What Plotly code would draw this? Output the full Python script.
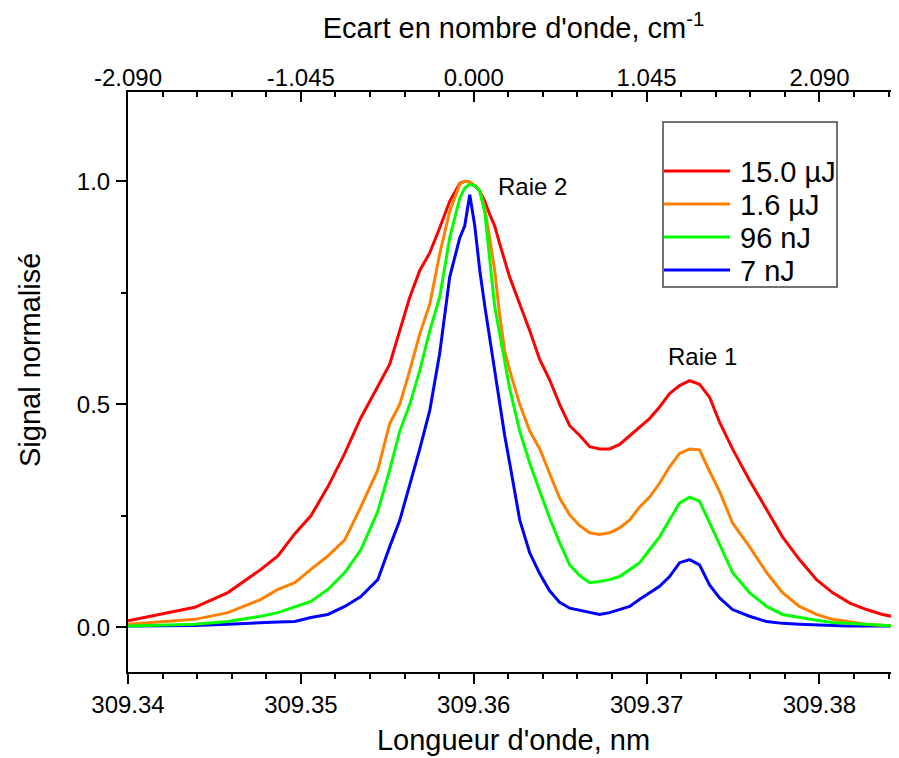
import plotly.graph_objects as go

# ---- data ----
wavelength_nm = [
    309.34000, 309.34387, 309.34578, 309.34769, 309.34867, 309.34965, 309.35058, 309.35156, 309.35254, 309.35347,
    309.35445, 309.35514, 309.35572, 309.35630, 309.35688, 309.35746, 309.35803, 309.35861, 309.35919, 309.35948,
    309.35977, 309.36006, 309.36035, 309.36064, 309.36092, 309.36121, 309.36150, 309.36179, 309.36208, 309.36266,
    309.36324, 309.36382, 309.36439, 309.36497, 309.36555, 309.36613, 309.36671, 309.36728, 309.36786, 309.36844,
    309.36902, 309.36960, 309.37017, 309.37075, 309.37133, 309.37191, 309.37249, 309.37306, 309.37364, 309.37422,
    309.37497, 309.37595, 309.37694, 309.37786, 309.37884, 309.37983, 309.38075, 309.38173, 309.38272, 309.38364,
    309.38457,
]

signal_15uJ = [
    0.015, 0.045, 0.078, 0.13, 0.16, 0.21, 0.25, 0.315, 0.39, 0.47,
    0.54, 0.59, 0.665, 0.74, 0.80, 0.84, 0.895, 0.955, 0.995, 1.0,
    0.998, 0.99, 0.978, 0.955, 0.926, 0.90, 0.86, 0.825, 0.785, 0.725,
    0.665, 0.60, 0.555, 0.50, 0.452, 0.43, 0.405, 0.40, 0.40, 0.41,
    0.43, 0.45, 0.468, 0.494, 0.524, 0.542, 0.553, 0.545, 0.516, 0.46,
    0.40, 0.33, 0.263, 0.203, 0.152, 0.107, 0.078, 0.055, 0.04, 0.029,
    0.022,
]

signal_1p6uJ = [
    0.007, 0.018, 0.033, 0.063, 0.085, 0.10, 0.13, 0.16, 0.196, 0.27,
    0.353, 0.457, 0.50, 0.576, 0.658, 0.725, 0.837, 0.933, 0.993, 1.0,
    0.998, 0.99, 0.978, 0.94, 0.873, 0.80, 0.70, 0.62, 0.576, 0.50,
    0.44, 0.40, 0.345, 0.29, 0.252, 0.228, 0.212, 0.208, 0.212, 0.223,
    0.241, 0.27, 0.292, 0.323, 0.36, 0.39, 0.40, 0.398, 0.35, 0.305,
    0.234, 0.181, 0.123, 0.078, 0.047, 0.029, 0.018, 0.012, 0.007, 0.005,
    0.003,
]

signal_96nJ = [
    0.003, 0.007, 0.013, 0.025, 0.033, 0.045, 0.058, 0.085, 0.123, 0.174,
    0.26, 0.353, 0.44, 0.50, 0.576, 0.665, 0.74, 0.873, 0.962, 0.985,
    0.993, 0.99, 0.978, 0.93, 0.82, 0.72, 0.658, 0.60, 0.535, 0.44,
    0.368, 0.305, 0.245, 0.19, 0.14, 0.116, 0.10, 0.103, 0.107, 0.114,
    0.13, 0.145, 0.174, 0.203, 0.241, 0.279, 0.292, 0.283, 0.235, 0.186,
    0.123, 0.078, 0.047, 0.029, 0.022, 0.016, 0.011, 0.009, 0.007, 0.005,
    0.003,
]

signal_7nJ = [
    0.003, 0.004, 0.007, 0.011, 0.012, 0.013, 0.022, 0.029, 0.047, 0.069,
    0.107, 0.181, 0.24, 0.32, 0.40, 0.487, 0.614, 0.785, 0.873, 0.90,
    0.97, 0.90, 0.80, 0.72, 0.65, 0.575, 0.50, 0.43, 0.368, 0.241,
    0.167, 0.12, 0.082, 0.056, 0.043, 0.038, 0.033, 0.029, 0.033, 0.04,
    0.047, 0.063, 0.078, 0.092, 0.114, 0.145, 0.152, 0.14, 0.095, 0.066,
    0.04, 0.025, 0.013, 0.009, 0.007, 0.005, 0.004, 0.003, 0.003, 0.003,
    0.003,
]

series_names = ["15.0 µJ", "1.6 µJ", "96 nJ", "7 nJ"]
series_colors = ["#ff0000", "#ff8000", "#00ff00", "#0000ff"]
series_values = [signal_15uJ, signal_1p6uJ, signal_96nJ, signal_7nJ]

bottom_tick_vals = [309.34, 309.35, 309.36, 309.37, 309.38]
bottom_tick_text = ["309.34", "309.35", "309.36", "309.37", "309.38"]
top_tick_text = ["-2.090", "-1.045", "0.000", "1.045", "2.090"]
y_tick_vals = [0.0, 0.5, 1.0]
y_tick_text = ["0.0", "0.5", "1.0"]

peak_labels = ["Raie 2", "Raie 1"]
peak_label_x = [309.36341, 309.37324]
peak_label_y = [0.989, 0.607]

FONT = "Arial, Liberation Sans, sans-serif"
X_RANGE = [309.34, 309.3846]
Y_RANGE = [-0.1, 1.2]
TICK_SIZE = 24
TITLE_SIZE = 29

fig = go.Figure()

# draw order: blue first, green last (green sits on top at the peak)
draw_order = [3, 0, 1, 2]
for i in draw_order:
    fig.add_trace(go.Scatter(
        x=wavelength_nm, y=series_values[i], mode="lines", name=series_names[i],
        line=dict(color=series_colors[i], width=3), showlegend=False,
    ))

# helper trace so the top axis is drawn
fig.add_trace(go.Scatter(x=[X_RANGE[0]], y=[None], xaxis="x2", yaxis="y",
                         showlegend=False, hoverinfo="skip", mode="lines"))

# ---- page geometry (the page body adds an 8 px offset) ----
px0, px1, py0, py1 = 128, 899, 92, 672   # plot area in page pixels
def paper_x(px):
    return (px - px0) / (px1 - px0)
def paper_y(py):
    return (py1 - py) / (py1 - py0)

# ---- hand-built legend (long line samples, boxed) ----
shapes = [dict(type="rect", xref="paper", yref="paper",
               x0=paper_x(663), x1=paper_x(837), y0=paper_y(287), y1=paper_y(122),
               line=dict(color="#444444", width=1.5), fillcolor="rgba(0,0,0,0)")]
annotations = []
legend_rows_py = [171, 204, 237, 270]
for name, color, py in zip(series_names, series_colors, legend_rows_py):
    shapes.append(dict(type="line", xref="paper", yref="paper",
                       x0=paper_x(664), x1=paper_x(730), y0=paper_y(py), y1=paper_y(py),
                       line=dict(color=color, width=3)))
    annotations.append(dict(xref="paper", yref="paper", x=paper_x(738), y=paper_y(py + 1),
                            text=name, showarrow=False, xanchor="left", yanchor="middle",
                            font=dict(family=FONT, size=29, color="black")))

for t, x, y in zip(peak_labels, peak_label_x, peak_label_y):
    annotations.append(dict(x=x, y=y, xref="x", yref="y", text=t, showarrow=False,
                            xanchor="center", yanchor="middle",
                            font=dict(family=FONT, size=24, color="black")))

# y-axis title placed where the reference has it (slightly above centre)
annotations.append(dict(xref="paper", yref="paper", x=paper_x(30), y=paper_y(360),
                        text="Signal normalisé", textangle=-90, showarrow=False,
                        xanchor="center", yanchor="middle",
                        font=dict(family=FONT, size=TITLE_SIZE, color="black")))

axis_common = dict(showgrid=False, zeroline=False, showline=True, linecolor="black",
                   linewidth=2, tickcolor="black", tickwidth=2, ticklen=10,
                   automargin=False,
                   tickfont=dict(family=FONT, size=TICK_SIZE, color="black"))

W, H = 891, 750
fig.update_layout(
    width=W, height=H,
    margin=dict(l=px0 - 8, r=W - (px1 - 8), t=py0 - 8, b=H - (py1 - 8), pad=0),
    paper_bgcolor="white", plot_bgcolor="white",
    showlegend=False,
    font=dict(family=FONT, color="black"),
    shapes=shapes, annotations=annotations,
    xaxis=dict(
        **axis_common, range=X_RANGE, ticks="outside",
        tickmode="array", tickvals=bottom_tick_vals, ticktext=bottom_tick_text,
        minor=dict(ticks="outside", ticklen=5, tickwidth=1.5, tickcolor="black",
                   tickmode="linear", tick0=309.34, dtick=0.002),
        title=dict(text="Longueur d'onde, nm",
                   font=dict(family=FONT, size=TITLE_SIZE, color="black"), standoff=13),
        anchor="y",
    ),
    xaxis2=dict(
        **axis_common, range=X_RANGE, ticks="inside", overlaying="x", side="top", anchor="y",
        tickmode="array", tickvals=bottom_tick_vals, ticktext=top_tick_text,
        ticklabelstandoff=-6,
        minor=dict(ticks="inside", ticklen=5, tickwidth=1.5, tickcolor="black",
                   tickmode="linear", tick0=309.34, dtick=0.002),
        title=dict(text="Ecart en nombre d'onde, cm<sup>-1</sup>",
                   font=dict(family=FONT, size=TITLE_SIZE, color="black"), standoff=18),
    ),
    yaxis=dict(
        **axis_common, range=Y_RANGE, ticks="outside",
        tickmode="array", tickvals=y_tick_vals, ticktext=y_tick_text,
        ticklabelstandoff=1,
        minor=dict(ticks="outside", ticklen=5, tickwidth=1.5, tickcolor="black",
                   tickmode="linear", tick0=0, dtick=0.25),
    ),
)

fig.write_html("out.html")
